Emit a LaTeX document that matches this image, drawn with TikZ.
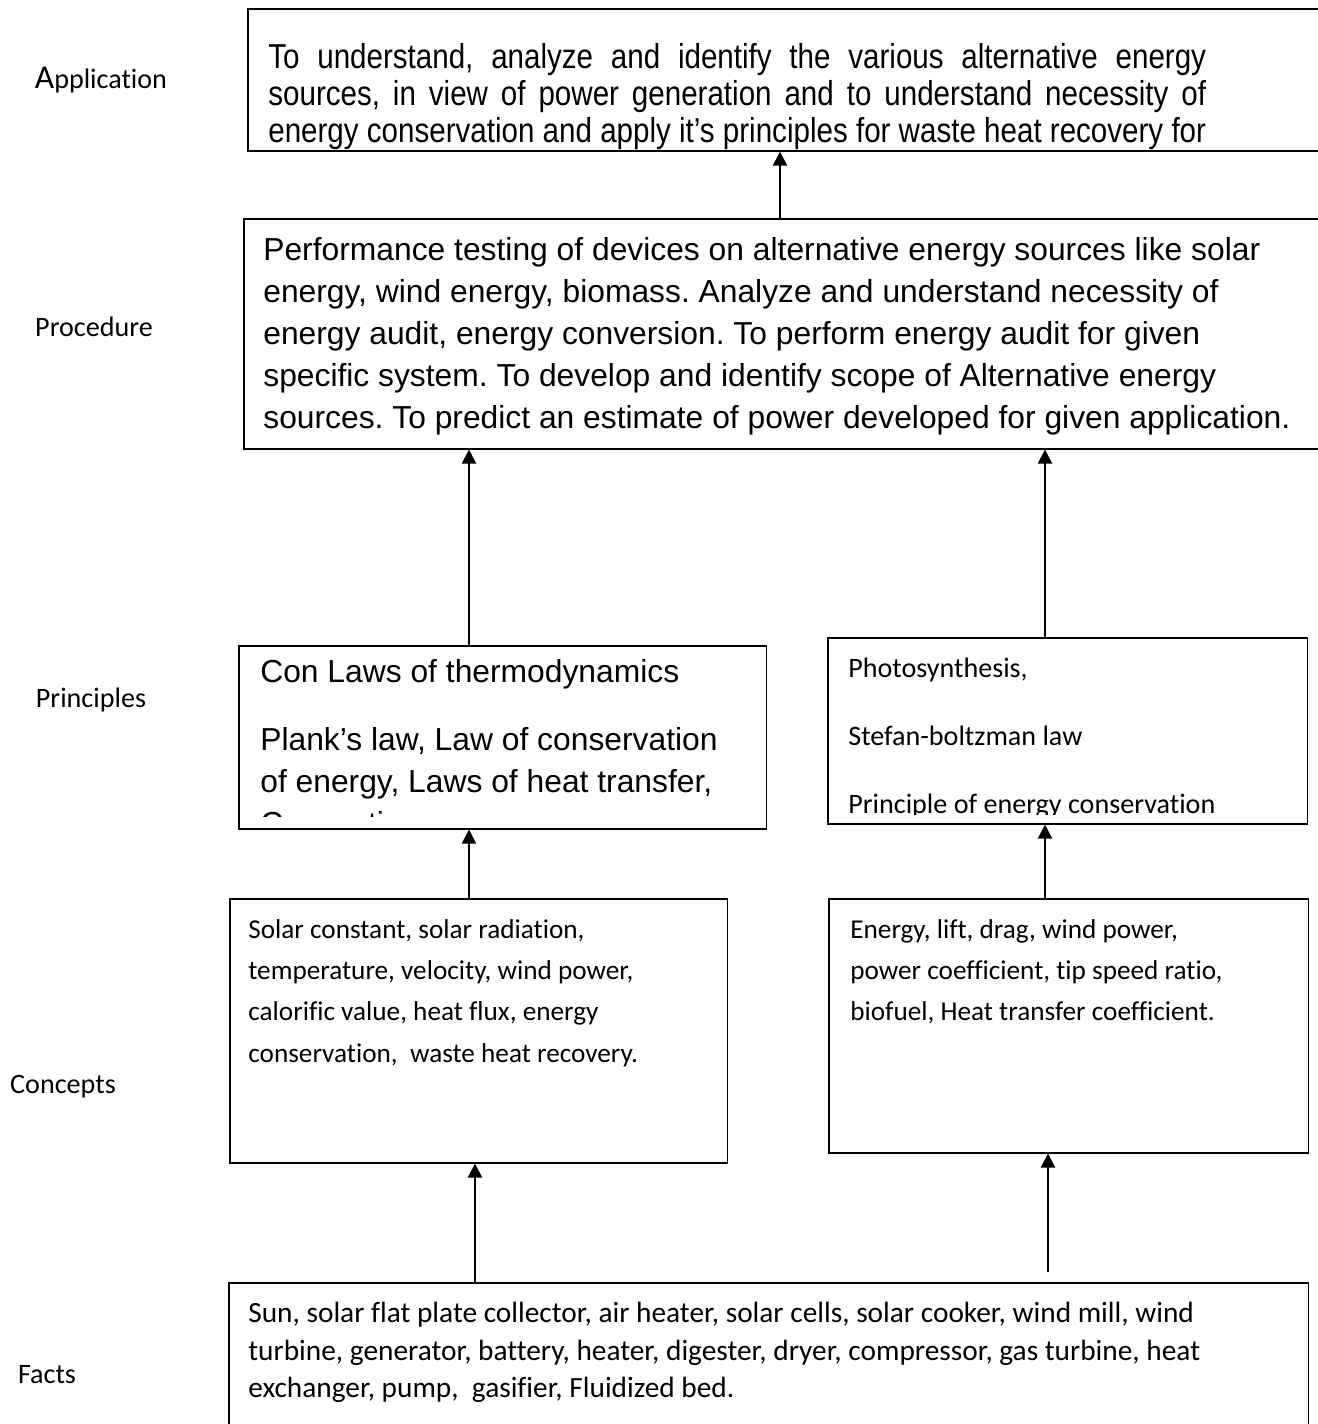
\documentclass[tikz,border=0pt]{standalone}
\usepackage{fontspec}
\setmainfont{Carlito}[Ligatures=NoCommon]
\newfontfamily\arialfont{Liberation Sans}
\newfontfamily\arialnarrow{Liberation Sans}[FakeStretch=0.854]
\usetikzlibrary{calc, positioning, arrows.meta}
\frenchspacing
\newcommand{\jline}[1]{\makebox[18.76cm][s]{#1}}

\begin{document}
\begin{tikzpicture}[
    x=0.02cm, y=-0.02cm,
    >={Triangle[length=8pt, width=8pt]},
    box/.style={draw, line width=0.9pt, anchor=north west, inner sep=0pt},
    txt/.style={anchor=north west, align=left, inner sep=0pt},
    lbl/.style={font=\fontsize{16pt}{19pt}\selectfont},
    arr/.style={->, line width=1.2pt}
]
    \path[use as bounding box, clip] (0,0) rectangle (1318,1424);

    % Level labels (left column)
    \node[lbl] (lapp)  at (101,80)   {{\fontsize{19pt}{19pt}\selectfont A}pplication};
    \node[lbl] (lproc) at (94,327)   {Procedure};
    \node[lbl] (lprin) at (91,700)   {Principles};
    \node[lbl] (lconc) at (63,1087)  {Concepts};
    \node[lbl] (lfact) at (47,1375)  {Facts};

    % Boxes
    \node[box, minimum width=21.86cm, minimum height=2.84cm] (app)   at (247,8)    {};
    \node[box, minimum width=22cm,    minimum height=4.6cm]  (proc)  at (243,218)  {};
    \node[box, minimum width=10.56cm, minimum height=3.66cm] (prinL) at (238,645)  {};
    \node[box, minimum width=9.6cm,   minimum height=3.72cm] (prinR) at (827,637)  {};
    \node[box, minimum width=9.96cm,  minimum height=5.28cm] (concL) at (229,898)  {};
    \node[box, minimum width=9.6cm,   minimum height=5.08cm] (concR) at (828,898)  {};
    \node[box, minimum width=21.6cm,  minimum height=3.2cm]  (facts) at (228,1282) {};

    % Box texts
    \node[txt, font=\arialnarrow\fontsize{19.7pt}{21.05pt}\selectfont] (apptext) at (268,43)
        {\jline{To understand, analyze and identify the various alternative energy}\\
         \jline{sources, in view of power generation and to understand necessity of}\\
         \jline{energy conservation and apply it’s principles for waste heat recovery for}};
    \node[txt, font=\arialfont\fontsize{18.1pt}{23.9pt}\selectfont] (proctext) at (263,237)
        {Performance testing of devices on alternative energy sources like solar\\
         energy, wind energy, biomass. Analyze and understand necessity of\\
         energy audit, energy conversion. To perform energy audit for given\\
         specific system. To develop and identify scope of Alternative energy\\
         sources. To predict an estimate of power developed for given application.};
    \begin{scope}
        \clip (prinL.north west) rectangle ($(prinL.south east)+(0,-13)$);
        \node[txt, font=\arialfont\fontsize{18.1pt}{23.9pt}\selectfont] (prinLtext) at (260,659)
            {Con Laws of thermodynamics\\[14.8pt]
             Plank’s law, Law of conservation\\
             of energy, Laws of heat transfer,\\
             Convection};
    \end{scope}
    \begin{scope}
        \clip (prinR.north west) rectangle ($(prinR.south east)+(0,-10)$);
        \node[txt, font=\fontsize{16pt}{38.7pt}\selectfont] (prinRtext) at (848,658)
            {Photosynthesis,\\
             Stefan-boltzman law\\
             Principle of energy conservation};
    \end{scope}
    \node[txt, font=\fontsize{15.5pt}{23.5pt}\selectfont] (concLtext) at (248,919)
        {Solar constant, solar radiation,\\
         temperature, velocity, wind power,\\
         calorific value, heat flux, energy\\
         conservation,\ \ waste heat recovery.};
    \node[txt, font=\fontsize{15.5pt}{23.5pt}\selectfont] (concRtext) at (850,919)
        {Energy, lift, drag, wind power,\\
         power coefficient, tip speed ratio,\\
         biofuel, Heat transfer coefficient.};
    \node[txt, font=\fontsize{16.7pt}{21.3pt}\selectfont] (factstext) at (248,1302)
        {Sun, solar flat plate collector, air heater, solar cells, solar cooker, wind mill, wind\\
         turbine, generator, battery, heater, digester, dryer, compressor, gas turbine, heat\\
         exchanger, pump,\ \ gasifier, Fluidized bed.};

    % Arrow positions
    \coordinate (a1) at (780,0);
    \coordinate (a2) at (469,0);
    \coordinate (a3) at (1045,0);
    \coordinate (a4) at (475,0);
    \coordinate (a5) at (1048,0);
    \coordinate (f5) at (1048,1272);

    % Connectors
    \draw[arr] (a1 |- proc.north)  -- (a1 |- app.south);
    \draw[arr] (a2 |- prinL.north) -- (a2 |- proc.south);
    \draw[arr] (a3 |- prinR.north) -- (a3 |- proc.south);
    \draw[arr] (a2 |- concL.north) -- (a2 |- prinL.south);
    \draw[arr] (a3 |- concR.north) -- (a3 |- prinR.south);
    \draw[arr] (a4 |- facts.north) -- (a4 |- concL.south);
    \draw[arr] (f5) -- (a5 |- concR.south);

\end{tikzpicture}
\end{document}
